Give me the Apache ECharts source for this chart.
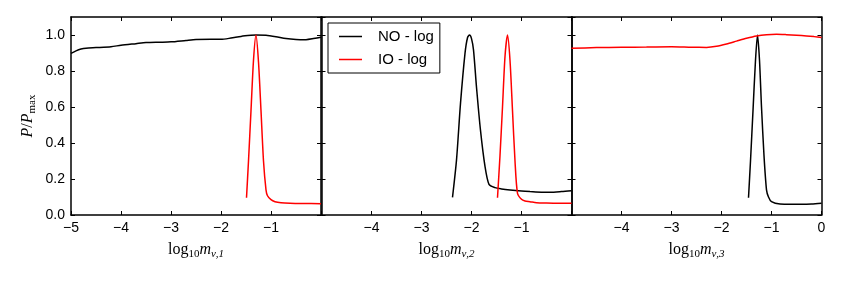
<!DOCTYPE html>
<html>
<head>
<meta charset="utf-8">
<script src="https://cdn.jsdelivr.net/npm/echarts@6/dist/echarts.min.js"></script>
<style>
html,body{margin:0;padding:0;background:#fff;}
#chart{width:843px;height:281px;}
</style>
</head>
<body>
<div id="chart"></div>
<script>
// ---- data ----
const seriesNames = ['NO - log', 'IO - log'];
const xTicks = [-5, -4, -3, -2, -1, 0];
const yTicks = [0.0, 0.2, 0.4, 0.6, 0.8, 1.0];

// panel 1: log10 m_nu,1
const p1_NO_x = [-5,-4.9,-4.8,-4.7,-4.5,-4.2,-4,-3.7,-3.5,-3.2,-3,-2.7,-2.5,-2.2,-2,-1.8,-1.6,-1.4,-1.3,-1.1,-0.9,-0.7,-0.5,-0.3,-0.15,0];
const p1_NO_y = [0.898,0.912,0.922,0.927,0.930,0.935,0.943,0.952,0.958,0.960,0.962,0.970,0.975,0.976,0.976,0.983,0.992,0.998,1.0,0.998,0.990,0.980,0.975,0.974,0.980,0.988];
const p1_IO_x = [-1.49,-1.45,-1.4,-1.35,-1.3,-1.25,-1.2,-1.15,-1.1,-1.07,-1.0,-0.92,-0.8,-0.62,-0.4,-0.2,0];
const p1_IO_y = [0.096,0.30,0.58,0.86,1.0,0.85,0.58,0.30,0.14,0.107,0.085,0.074,0.068,0.065,0.064,0.064,0.063];

// panel 2: log10 m_nu,2
const p2_NO_x = [-2.38,-2.30,-2.22,-2.13,-2.08,-2.04,-2.0,-1.96,-1.90,-1.82,-1.73,-1.65,-1.53,-1.4,-1.23,-1.0,-0.83,-0.6,-0.43,-0.2,0];
const p2_NO_y = [0.098,0.305,0.62,0.898,0.985,1.0,0.98,0.917,0.71,0.47,0.27,0.17,0.152,0.145,0.139,0.133,0.130,0.127,0.126,0.130,0.135];
const p2_IO_x = [-1.48,-1.43,-1.38,-1.33,-1.28,-1.23,-1.18,-1.13,-1.08,-1.0,-0.93,-0.83,-0.7,-0.5,-0.25,0];
const p2_IO_y = [0.096,0.33,0.60,0.88,1.0,0.86,0.58,0.30,0.12,0.087,0.078,0.074,0.068,0.066,0.065,0.065];

// panel 3: log10 m_nu,3
const p3_IO_x = [-5,-4.5,-4,-3.5,-3,-2.6,-2.3,-2.1,-1.9,-1.7,-1.5,-1.3,-1.1,-0.9,-0.7,-0.5,-0.3,-0.15,0];
const p3_IO_y = [0.926,0.930,0.932,0.933,0.935,0.932,0.931,0.937,0.950,0.966,0.982,0.995,1.002,1.004,1.002,0.999,0.995,0.991,0.986];
const p3_NO_x = [-1.46,-1.42,-1.37,-1.32,-1.28,-1.24,-1.2,-1.15,-1.1,-1.06,-1.0,-0.83,-0.6,-0.43,-0.2,0];
const p3_NO_y = [0.096,0.30,0.58,0.86,1.0,0.86,0.60,0.33,0.14,0.10,0.074,0.061,0.060,0.060,0.061,0.065];

const xNames = ['1', '2', '3'];
const hiddenX = [[0], [-5, 0], [-5]];

// ---- build ----
const zip = (xs, ys) => xs.map((x, i) => [x, ys[i]]);
const panels = [
  {NO: zip(p1_NO_x, p1_NO_y), IO: zip(p1_IO_x, p1_IO_y)},
  {NO: zip(p2_NO_x, p2_NO_y), IO: zip(p2_IO_x, p2_IO_y)},
  {NO: zip(p3_NO_x, p3_NO_y), IO: zip(p3_IO_x, p3_IO_y)}
];
const lefts = [71, 321.5, 571.5];
const AX = {onZero: false, lineStyle: {color: '#000', width: 1.5}};
const TICK = {inside: true, length: 4, lineStyle: {color: '#000', width: 1}};
const labelFont = {color: '#000', fontSize: 14, fontFamily: 'Liberation Sans'};
const mathRich = {
  r: {fontFamily: 'Liberation Serif', fontSize: 16, lineHeight: 20, color: '#000'},
  i: {fontFamily: 'Liberation Serif', fontStyle: 'italic', fontSize: 16, lineHeight: 20, color: '#000'},
  s: {fontFamily: 'Liberation Serif', fontSize: 11, lineHeight: 11, verticalAlign: 'bottom', color: '#000'},
  si: {fontFamily: 'Liberation Serif', fontStyle: 'italic', fontSize: 11, lineHeight: 11, verticalAlign: 'bottom', color: '#000'}
};
const fmtX = hide => v => hide.indexOf(v) >= 0 ? '' : (v < 0 ? '\u2212' + (-v) : String(v));

const grid = [], xAxis = [], yAxis = [], series = [];
lefts.forEach((l, k) => {
  grid.push({left: l, top: 17, width: 250, height: 198});
  xAxis.push({
    type: 'value', gridIndex: k, min: xTicks[0], max: xTicks[xTicks.length - 1], interval: 1,
    position: 'bottom', axisLine: AX, axisTick: TICK, splitLine: {show: false},
    axisLabel: Object.assign({margin: 6, formatter: fmtX(hiddenX[k])}, labelFont),
    name: '{r|log}{s|10}{i|m}{si|ν,' + xNames[k] + '}',
    nameLocation: 'middle', nameGap: 25,
    nameTextStyle: {rich: mathRich}
  });
  xAxis.push({
    type: 'value', gridIndex: k, min: xTicks[0], max: xTicks[xTicks.length - 1], interval: 1,
    position: 'top', axisLine: AX, axisTick: TICK, axisLabel: {show: false}, splitLine: {show: false}
  });
  yAxis.push({
    type: 'value', gridIndex: k, min: 0, max: 1.1, interval: 0.2, position: 'left',
    axisLine: AX, axisTick: TICK, splitLine: {show: false},
    axisLabel: Object.assign({show: k === 0, margin: 6, showMaxLabel: false,
      formatter: v => v > 1.05 ? '' : v.toFixed(1)}, labelFont),
    name: k === 0 ? '{i|P}{r|/}{i|P}{s|max}' : '',
    nameLocation: 'middle', nameGap: 33, nameRotate: 90,
    nameTextStyle: {rich: mathRich}
  });
  yAxis.push({
    type: 'value', gridIndex: k, min: 0, max: 1.1, interval: 0.2, position: 'right',
    axisLine: AX, axisTick: TICK, axisLabel: {show: false}, splitLine: {show: false}
  });
  const p = panels[k];
  series.push({
    name: seriesNames[0], type: 'line', xAxisIndex: 2 * k, yAxisIndex: 2 * k,
    data: p.NO, showSymbol: false, symbol: 'none', smooth: 0.25, color: '#000',
    lineStyle: {color: '#000', width: 1.5}, animation: false
  });
  series.push({
    name: seriesNames[1], type: 'line', xAxisIndex: 2 * k, yAxisIndex: 2 * k,
    data: p.IO, showSymbol: false, symbol: 'none', smooth: 0.25, color: '#ff0000',
    lineStyle: {color: '#ff0000', width: 1.5}, animation: false
  });
});

const chart = echarts.init(document.getElementById('chart'), null, {renderer: 'canvas'});
chart.setOption({
  backgroundColor: '#fff',
  animation: false,
  grid, xAxis, yAxis, series,
  legend: {
    data: seriesNames, orient: 'vertical', left: 328, top: 23,
    icon: 'rect', itemWidth: 23, itemHeight: 1.5, itemGap: 8,
    borderColor: '#000', borderWidth: 1, borderRadius: 0,
    padding: [6, 6, 6, 11],
    textStyle: {color: '#000', fontSize: 15, fontFamily: 'Liberation Sans', padding: [0, 0, 0, 11], lineHeight: 15},
    selectedMode: false
  }
});
</script>
</body>
</html>
